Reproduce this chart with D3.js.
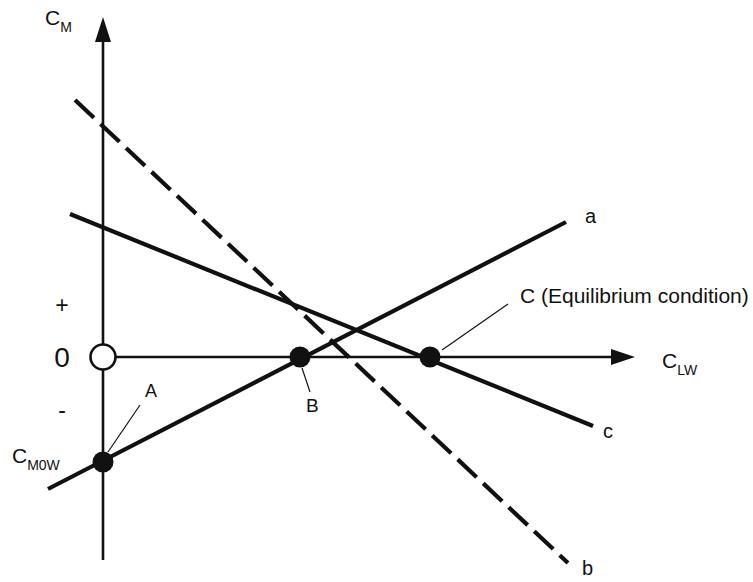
<!DOCTYPE html>
<html>
<head>
<meta charset="utf-8">
<script src="https://cdn.jsdelivr.net/npm/d3@7"></script>
<style>
  html, body { margin: 0; padding: 0; background: #fff; }
  svg { display: block; }
  text { font-family: "Liberation Sans", Arial, Helvetica, sans-serif; fill: #111; }
</style>
</head>
<body>
<svg id="chart" width="753" height="582"></svg>
<script>
// Pitching-moment coefficient C_M versus wing lift coefficient C_LW
const lineNames = ["a", "b", "c"];
const lineStarts = [[-1.1, -2.64], [-0.56, 5.14], [-0.66, 2.86]];
const lineEnds   = [[9.26, 2.70], [9.30, -4.12], [9.80, -1.38]];
const lineDashed = [false, true, false];

const pointNames = ["A", "B", "C"];
const pointX = [0, 3.94, 6.54];
const pointY = [-2.1, 0, 0];

const signLabels = ["+", "0", "-"];
const signValues = [1.05, 0, -1.05];

const xAxisEnd = 10.64;
const yAxisRange = [-4.06, 6.8];

const svg = d3.select("#chart");
const x = d3.scaleLinear().domain([0, 10]).range([103, 603]);
const y = d3.scaleLinear().domain([-4, 7]).range([557, 7]);

const ink = "#111";

// vertical axis (C_M) with arrow
svg.append("line")
  .attr("x1", x(0)).attr("x2", x(0))
  .attr("y1", y(yAxisRange[0])).attr("y2", y(yAxisRange[1]) + 20)
  .attr("stroke", ink).attr("stroke-width", 2.6);
svg.append("path")
  .attr("d", `M${x(0)},${y(yAxisRange[1])} L${x(0) - 8},${y(yAxisRange[1]) + 25} L${x(0) + 8},${y(yAxisRange[1]) + 25} Z`)
  .attr("fill", ink);

// horizontal axis (C_LW) with arrow
svg.append("line")
  .attr("x1", x(0)).attr("x2", x(xAxisEnd) - 20)
  .attr("y1", y(0)).attr("y2", y(0))
  .attr("stroke", ink).attr("stroke-width", 2.6);
svg.append("path")
  .attr("d", `M${x(xAxisEnd)},${y(0)} L${x(xAxisEnd) - 24},${y(0) - 8} L${x(xAxisEnd) - 24},${y(0) + 8} Z`)
  .attr("fill", ink);

// characteristic lines a, b, c
lineNames.forEach((name, i) => {
  svg.append("line")
    .attr("x1", x(lineStarts[i][0])).attr("y1", y(lineStarts[i][1]))
    .attr("x2", x(lineEnds[i][0])).attr("y2", y(lineEnds[i][1]))
    .attr("stroke", ink).attr("stroke-width", 4.2)
    .attr("stroke-dasharray", lineDashed[i] ? "26 9" : null);
});

// line end labels
const endLabelOffsets = [[19, 1], [14, 12], [10, 12]];
lineNames.forEach((name, i) => {
  svg.append("text")
    .attr("x", x(lineEnds[i][0]) + endLabelOffsets[i][0])
    .attr("y", y(lineEnds[i][1]) + endLabelOffsets[i][1])
    .attr("font-size", 20)
    .text(name);
});

// origin marker
svg.append("circle")
  .attr("cx", x(0)).attr("cy", y(0)).attr("r", 12.5)
  .attr("fill", "#fff").attr("stroke", ink).attr("stroke-width", 2.6);

// operating points
pointNames.forEach((name, i) => {
  svg.append("circle")
    .attr("cx", x(pointX[i])).attr("cy", y(pointY[i])).attr("r", 10.5)
    .attr("fill", ink);
});

// leader lines from labels to points
const leaders = [
  { from: [140, 405], to: [108, 452] },
  { from: [310, 392], to: [302, 368] },
  { from: [508, 304], to: [442, 350] }
];
leaders.forEach(l => {
  svg.append("line")
    .attr("x1", l.from[0]).attr("y1", l.from[1])
    .attr("x2", l.to[0]).attr("y2", l.to[1])
    .attr("stroke", ink).attr("stroke-width", 1.2);
});

// point labels
svg.append("text").attr("x", x(pointX[0]) + 42).attr("y", y(pointY[0]) - 65)
  .attr("font-size", 18).text("A");
svg.append("text").attr("x", x(pointX[1]) + 6).attr("y", y(pointY[1]) + 55)
  .attr("font-size", 19).text("B");
svg.append("text").attr("x", 520).attr("y", 303)
  .attr("font-size", 21).text("C (Equilibrium condition)");

// sign marks beside the C_M axis
signLabels.forEach((s, i) => {
  svg.append("text")
    .attr("x", 62).attr("y", y(signValues[i]))
    .attr("text-anchor", "middle").attr("dominant-baseline", "central")
    .attr("font-size", s === "0" ? 28 : 23)
    .text(s);
});

// axis titles with subscripts
function subLabel(px, py, main, sub) {
  const t = svg.append("text").attr("x", px).attr("y", py).attr("font-size", 21);
  t.append("tspan").text(main);
  t.append("tspan").attr("dy", 7).attr("font-size", 14).text(sub);
}
subLabel(45, 25, "C", "M");
subLabel(662, 368, "C", "LW");
subLabel(12, 463, "C", "M0W");
</script>
</body>
</html>
